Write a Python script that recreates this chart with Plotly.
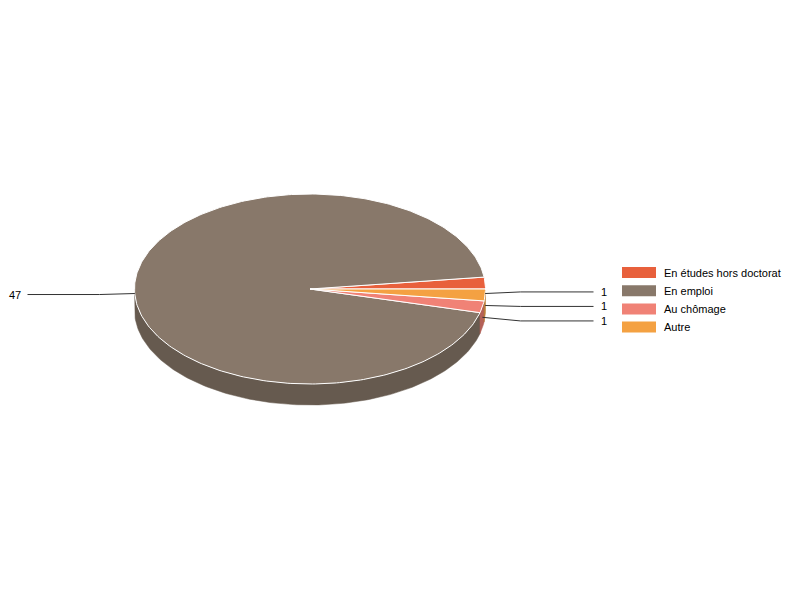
import numpy as np
import plotly.graph_objects as go

# data
categories = ["En études hors doctorat", "En emploi", "Au chômage", "Autre"]
counts = [1, 47, 1, 1]
colors = ["#E8603C", "#88786A", "#F08276", "#F4A142"]

# pie geometry (pixel space)
CX, CY = 310, 289
RX, RY = 175.5, 95
DEPTH = 21
FONT = "Liberation Sans, Arial, sans-serif"
PAGE_OFF = 8  # body margin of the html page


def darken(hex_color, f=0.75):
    h = hex_color.lstrip("#")
    r, g, b = (int(h[i:i + 2], 16) for i in (0, 2, 4))
    return "rgb({},{},{})".format(int(r * f), int(g * f), int(b * f))


def ellipse_pts(a0, a1, dy=0, n=None):
    if n is None:
        n = max(int(abs(a1 - a0) / 1.0) + 2, 3)
    t = np.radians(np.linspace(a0, a1, n))
    return CX + RX * np.cos(t), CY + RY * np.sin(t) + dy


total = sum(counts)
# slices go counter-clockwise on screen, starting at 3 o'clock
slices = []
start = 0.0
for cat, val, col in zip(categories, counts, colors):
    span = val / total * 360
    end = start - span
    slices.append((cat, val, col, end, start))
    start = end

fig = go.Figure()

# side walls (front half only)
for cat, val, col, a, b in slices:
    lo, hi = a % 360, a % 360 + (b - a)
    for wlo, whi in ((0, 180), (360, 540)):
        s, e = max(lo, wlo), min(hi, whi)
        if e <= s:
            continue
        tx, ty = ellipse_pts(s, e)
        bx, by = ellipse_pts(e, s, dy=DEPTH)
        fig.add_trace(go.Scatter(
            x=np.concatenate([tx, bx, tx[:1]]),
            y=np.concatenate([ty, by, ty[:1]]),
            mode="lines", fill="toself", fillcolor=darken(col),
            line=dict(color=darken(col), width=0.5),
            hoverinfo="skip", showlegend=False))

# top faces
for cat, val, col, a, b in slices:
    ex, ey = ellipse_pts(a, b)
    fig.add_trace(go.Scatter(
        x=np.concatenate([[CX], ex, [CX]]),
        y=np.concatenate([[CY], ey, [CY]]),
        mode="lines", fill="toself", fillcolor=col,
        line=dict(color="white", width=1),
        name=cat, text=str(val), hoverinfo="name+text", showlegend=False))


# data labels with connectors
def spread(ys, gap=14.5):
    out = list(ys)
    for _ in range(100):
        moved = False
        for i in range(len(out) - 1):
            d = out[i + 1] - out[i]
            if d < gap - 1e-6:
                sh = (gap - d) / 2
                out[i] -= sh
                out[i + 1] += sh
                moved = True
        if not moved:
            break
    return out


anchors = []
for cat, val, col, a, b in slices:
    mid = np.radians((a + b) / 2)
    px = CX + RX * np.cos(mid)
    py = CY + RY * np.sin(mid) + DEPTH / 2
    anchors.append((val, px, py, np.cos(mid) >= 0))

annotations = []
for right in (True, False):
    side = sorted([s for s in anchors if s[3] == right], key=lambda s: s[2])
    ly = spread([s[2] + 1 for s in side])
    for (val, px, py, _), y in zip(side, ly):
        if right:
            ex, lx = CX + RX + 35, CX + RX + 108
        else:
            ex, lx = CX - RX - 35, CX - RX - 107
        fig.add_trace(go.Scatter(
            x=[px, ex, lx], y=[py, y, y], mode="lines",
            line=dict(color="#333333", width=1),
            hoverinfo="skip", showlegend=False))
        annotations.append(dict(
            x=lx + (5 if right else -5), y=y, text=str(val), showarrow=False,
            xanchor="left" if right else "right", yanchor="middle",
            font=dict(family=FONT, size=11, color="#000000")))

# legend
shapes = []
for i, (cat, col) in enumerate(zip(categories, colors)):
    yc = 272.5 + i * 18.2
    shapes.append(dict(type="rect", xref="x", yref="y",
                       x0=622, x1=656, y0=yc - 5.5, y1=yc + 5.5,
                       fillcolor=col, line=dict(width=0)))
    annotations.append(dict(
        x=662, y=yc, text=cat, showarrow=False, xanchor="left",
        yanchor="middle", font=dict(family=FONT, size=11, color="#000000")))

fig.update_layout(
    width=800, height=600, autosize=False,
    margin=dict(l=0, r=0, t=0, b=0),
    paper_bgcolor="white", plot_bgcolor="white",
    xaxis=dict(range=[PAGE_OFF, 800 + PAGE_OFF], visible=False, fixedrange=True),
    yaxis=dict(range=[600 + PAGE_OFF, PAGE_OFF], visible=False, fixedrange=True),
    shapes=shapes, annotations=annotations, showlegend=False,
)

fig.write_html("out.html")
